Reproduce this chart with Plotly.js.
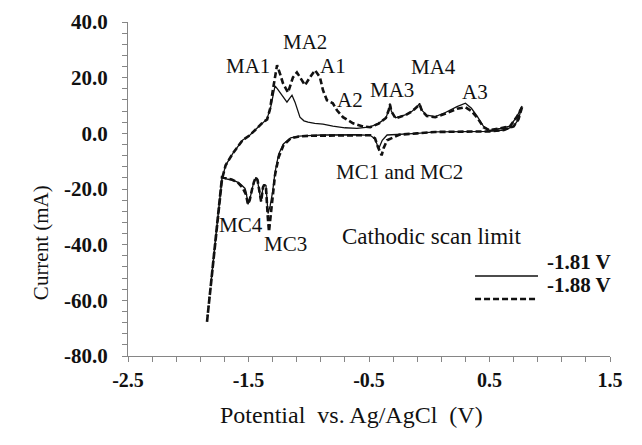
<!DOCTYPE html>
<html>
<head>
<meta charset="utf-8">
<script src="https://cdn.plot.ly/plotly-3.0.1.min.js"></script>
<style>
html,body{margin:0;padding:0;background:#fff;}
#chart{width:642px;height:445px;}
</style>
</head>
<body>
<div id="chart"></div>
<script>
// Cathodic scan limit -1.88 V (dashed): potential (V) and current (mA)
var potential188 = [0.77,0.74,0.70,0.62,0.50,0.35,0.20,0.05,-0.10,-0.25,-0.35,-0.38,-0.395,-0.425,-0.45,-0.49,-0.60,-0.75,-0.90,-1.00,-1.08,-1.15,-1.21,-1.25,-1.28,-1.30,-1.315,-1.33,-1.34,-1.355,-1.37,-1.38,-1.395,-1.41,-1.425,-1.44,-1.455,-1.47,-1.49,-1.505,-1.52,-1.55,-1.59,-1.64,-1.69,-1.72,-1.76,-1.80,-1.845,
  -1.84,-1.80,-1.76,-1.72,-1.69,-1.63,-1.55,-1.49,-1.43,-1.38,-1.345,-1.32,-1.30,-1.28,-1.263,-1.24,-1.214,-1.172,-1.131,-1.098,-1.056,-1.031,-0.99,-0.948,-0.907,-0.882,-0.849,-0.80,-0.766,-0.716,-0.633,-0.55,-0.49,-0.42,-0.36,-0.335,-0.326,-0.315,-0.28,-0.20,-0.14,-0.10,-0.08,-0.06,-0.02,0.05,0.13,0.23,0.30,0.35,0.40,0.45,0.50,0.59,0.67,0.73,0.77];
var current188 = [9.4,5.0,2.5,1.2,0.7,0.6,0.6,0.5,0.0,-0.5,-2.5,-5.4,-7.9,-5.0,-1.8,-0.7,-0.7,-0.7,-0.7,-0.9,-1.1,-1.8,-4.3,-8.6,-15,-24,-31,-35.3,-30,-19.5,-18.5,-19.4,-24.5,-21,-16.8,-15.8,-17.5,-20,-24,-25.5,-22,-19.5,-17.6,-16.6,-16.0,-15.8,-32.5,-49.2,-68,
  -66,-49,-32,-16.5,-11.5,-7.2,-2.5,-0.7,1.8,4.0,5.0,9.0,15.0,20.9,24.5,21.6,18.0,14.7,20.1,21.9,19.1,17.3,20.1,22.7,20.1,15.5,11.9,10.8,8.3,5.8,3.6,2.5,2.2,3.5,5.5,8.5,10.4,8.0,5.4,6.5,8.0,9.5,10.4,8.0,6.2,5.8,7.0,8.8,9.4,8.0,5.5,2.2,1.1,1.8,2.5,6.1,9.4];

// Cathodic scan limit -1.81 V (solid)
var potential181 = [0.77,0.74,0.70,0.62,0.50,0.35,0.20,0.05,-0.10,-0.25,-0.35,-0.39,-0.42,-0.45,-0.49,-0.60,-0.75,-0.90,-1.00,-1.08,-1.15,-1.21,-1.25,-1.28,-1.30,-1.32,-1.338,-1.35,-1.355,-1.37,-1.38,-1.396,-1.413,-1.425,-1.438,-1.45,-1.463,-1.48,-1.504,-1.52,-1.529,-1.56,-1.587,-1.63,-1.67,-1.72,-1.76,-1.81,
  -1.80,-1.76,-1.72,-1.69,-1.63,-1.55,-1.49,-1.43,-1.38,-1.35,-1.32,-1.30,-1.28,-1.26,-1.239,-1.20,-1.181,-1.16,-1.139,-1.114,-1.09,-1.073,-1.04,-1.006,-0.95,-0.882,-0.80,-0.70,-0.60,-0.55,-0.49,-0.42,-0.36,-0.335,-0.326,-0.315,-0.28,-0.20,-0.14,-0.10,-0.08,-0.06,-0.02,0.05,0.13,0.23,0.30,0.35,0.40,0.45,0.50,0.59,0.67,0.73,0.77];
var current181 = [9.8,5.0,2.5,1.2,0.7,0.6,0.6,0.5,0.0,-0.5,-0.6,-2.5,-5.5,-2.0,-0.7,-0.5,-0.5,-0.6,-0.8,-1.0,-1.6,-3.8,-7.5,-14,-21,-26,-28.8,-22,-18.7,-18.5,-19.4,-24.5,-20.5,-17,-15.8,-17,-18.7,-22,-25.5,-21,-19.8,-18.5,-17.6,-16.8,-16.5,-15.8,-32.5,-53,
  -50,-32,-16.5,-11.5,-7.2,-2.5,-0.7,1.8,4.0,5.0,8.5,12.5,17.0,16.0,14.7,12.0,11.2,12.5,13.7,11.2,7.5,5.8,4.5,4.0,3.6,3.3,2.6,2.0,1.8,2.0,2.3,3.6,5.5,8.5,10.8,8.0,5.6,6.6,8.0,9.6,10.8,8.2,6.5,6.0,7.4,9.6,10.8,9.0,6.0,2.5,1.1,1.8,2.6,6.2,9.8];

// Peak labels and their positions (V, mA)
var peakLabels = ["MA1","MA2","A1","A2","MA3","MA4","A3","MC1 and MC2","MC4","MC3"];
var peakLabelV = [-1.504,-1.031,-0.799,-0.658,-0.309,0.039,0.380,-0.243,-1.562,-1.189];
var peakLabelI = [24.1,32.7,24.1,11.9,15.5,23.7,14.7,-14.0,-33.1,-39.6];

var seriesNames = ["-1.81 V","-1.88 V"];
var xTickVals = [-2.5,-1.5,-0.5,0.5,1.5];
var yTickVals = [-80,-60,-40,-20,0,20,40];

var fam = 'Liberation Serif';
var axisColor = '#868686';

var traces = [
  {x: potential181, y: current181, mode: 'lines', name: seriesNames[0],
   line: {color: '#111', width: 1.3}, showlegend: false},
  {x: potential188, y: current188, mode: 'lines', name: seriesNames[1],
   line: {color: '#111', width: 2.6, dash: '6px,3px'}, showlegend: false}
];

var annotations = peakLabels.map(function(t, i){
  return {x: peakLabelV[i], y: peakLabelI[i], xref: 'x', yref: 'y', text: t, showarrow: false,
          font: {family: fam, size: 21, color: '#111'}};
});
annotations.push({xref: 'paper', yref: 'paper', x: -0.2095, y: 0.338, text: 'Current (mA)', textangle: -90,
  showarrow: false, font: {family: fam, size: 21, color: '#111'}});
annotations.push({xref: 'paper', yref: 'paper', x: 0.4627, y: -0.2216, text: 'Potential&nbsp;&nbsp;vs. Ag/AgCl&nbsp;&nbsp;(V)',
  showarrow: false, font: {family: fam, size: 24, color: '#111'}});
annotations.push({xref: 'paper', yref: 'paper', x: 0.8185, y: 0.359, text: 'Cathodic scan limit',
  showarrow: false, font: {family: fam, size: 23, color: '#111'}});
annotations.push({xref: 'paper', yref: 'paper', x: 0.865, y: 0.2395, xanchor: 'left', text: '<b>' + seriesNames[0] + '</b>',
  showarrow: false, font: {family: fam, size: 21, color: '#111'}});
annotations.push({xref: 'paper', yref: 'paper', x: 0.865, y: 0.1707, xanchor: 'left', text: '<b>' + seriesNames[1] + '</b>',
  showarrow: false, font: {family: fam, size: 21, color: '#111'}});

var shapes = [
  {type: 'line', xref: 'paper', yref: 'paper', x0: 0.72, x1: 0.8506, y0: 0.2395, y1: 0.2395, line: {color: '#111', width: 1.3}},
  {type: 'line', xref: 'paper', yref: 'paper', x0: 0.72, x1: 0.8506, y0: 0.1707, y1: 0.1707, line: {color: '#111', width: 2.6, dash: '6px,3px'}}
];

var layout = {
  width: 642, height: 445,
  margin: {l: 128, r: 32, t: 22, b: 89, pad: 0},
  paper_bgcolor: '#fff', plot_bgcolor: '#fff',
  showlegend: false,
  font: {family: fam, color: '#111'},
  xaxis: {range: [-2.5, 1.5], tickvals: xTickVals, ticktext: xTickVals.map(function(v){return '<b>' + v.toFixed(1) + '</b>';}),
    showgrid: false, zeroline: false, showline: true, linecolor: axisColor, linewidth: 1,
    ticks: 'outside', ticklen: 5, tickcolor: axisColor,
    minor: {dtick: 0.2, tick0: -2.5, ticks: 'outside', ticklen: 5, tickcolor: axisColor, showgrid: false},
    tickfont: {family: fam, size: 20, color: '#111'}, ticklabelstandoff: 1},
  yaxis: {range: [-80, 40], tickvals: yTickVals, ticktext: yTickVals.map(function(v){return '<b>' + v.toFixed(1) + '</b>';}),
    showgrid: false, zeroline: false, showline: true, linecolor: axisColor, linewidth: 1,
    ticks: 'outside', ticklen: 5, tickcolor: axisColor,
    minor: {dtick: 4, tick0: -80, ticks: 'outside', ticklen: 5, tickcolor: axisColor, showgrid: false},
    tickfont: {family: fam, size: 21, color: '#111'}, ticklabelstandoff: 10},
  annotations: annotations,
  shapes: shapes
};

Plotly.newPlot('chart', traces, layout, {displayModeBar: false});
</script>
</body>
</html>
